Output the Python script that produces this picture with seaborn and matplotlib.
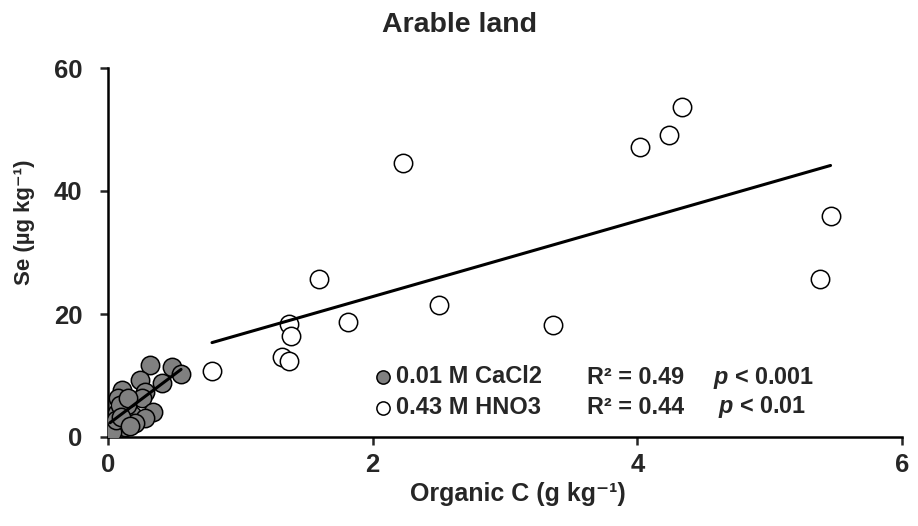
import numpy as np
import pandas as pd
import matplotlib
matplotlib.use("Agg")
import matplotlib.pyplot as plt
import seaborn as sns

# CaCl2-extractable Se (filled grey circles)
cacl2_oc = [0.317, 0.484, 0.552, 0.242, 0.408, 0.106, 0.280, 0.076, 0.257, 0.340,
            0.068, 0.181, 0.280, 0.038, 0.128, 0.204, 0.144, 0.090, 0.015, 0.150,
            0.030, 0.060, 0.100, 0.170]
cacl2_se = [11.7, 11.4, 10.2, 9.3, 8.8, 7.6, 7.3, 6.3, 6.3, 4.1,
            3.9, 3.6, 3.1, 2.0, 1.6, 2.3, 5.2, 5.2, 1.1, 6.3,
            0.8, 2.8, 3.2, 1.8]
# HNO3-extractable Se (open circles)
hno3_oc = [0.786, 1.315, 1.37, 1.37, 1.38, 1.595, 1.81, 2.23, 2.50, 3.36,
           4.02, 4.24, 4.34, 5.38, 5.46]
hno3_se = [10.7, 13.0, 12.4, 18.4, 16.4, 25.7, 18.7, 44.6, 21.5, 18.2,
           47.2, 49.1, 53.7, 25.7, 35.9]

series_labels = ["0.01 M CaCl2", "0.43 M HNO3"]
r2_labels = ["R² = 0.49", "R² = 0.44"]
p_labels = ["< 0.001", "< 0.01"]
x_ticks = [0, 2, 4, 6]
y_ticks = [0, 20, 40, 60]

sns.set_theme(style="ticks")
plt.rcParams["font.family"] = ["Liberation Sans", "DejaVu Sans"]
plt.rcParams["font.weight"] = "bold"
plt.rcParams["mathtext.fontset"] = "custom"
plt.rcParams["mathtext.bf"] = "Liberation Sans:bold"
plt.rcParams["mathtext.rm"] = "Liberation Sans:bold"
plt.rcParams["mathtext.it"] = "Liberation Sans:italic:bold"
plt.rcParams["mathtext.default"] = "bf"

fig = plt.figure(figsize=(9.18, 5.26), dpi=100)
ax = fig.add_axes([108 / 918, 89 / 526, 794 / 918, 369 / 526])

df1 = pd.DataFrame({"oc": cacl2_oc, "se": cacl2_se})
df2 = pd.DataFrame({"oc": hno3_oc, "se": hno3_se})

sns.regplot(data=df1, x="oc", y="se", ax=ax, ci=None, truncate=True,
            scatter_kws=dict(s=175, facecolor="#808080", edgecolor="black",
                             linewidths=1.1, alpha=1, zorder=3),
            line_kws=dict(color="black", lw=2.2, zorder=4), label=series_labels[0])
sns.regplot(data=df2, x="oc", y="se", ax=ax, ci=None, truncate=True,
            scatter_kws=dict(s=175, facecolor="white", edgecolor="black",
                             linewidths=1.1, alpha=1, zorder=3),
            line_kws=dict(color="black", lw=2.2, zorder=4), label=series_labels[1])

ax.set_xlim(0, 6)
ax.set_ylim(0, 60)
ax.set_xticks(x_ticks)
ax.set_yticks(y_ticks)
ax.tick_params(axis="both", which="major", labelsize=18.5, width=1.8, length=5.5,
               direction="out")
ax.tick_params(axis="y", pad=13)
ax.tick_params(axis="x", pad=6)
for lab in ax.get_xticklabels() + ax.get_yticklabels():
    lab.set_fontweight("bold")
for side in ["top", "right"]:
    ax.spines[side].set_visible(False)
for side in ["left", "bottom"]:
    ax.spines[side].set_linewidth(1.8)
    ax.spines[side].set_color("black")

ax.set_xlabel("Organic C (g kg⁻¹)", fontsize=18, fontweight="bold")
ax.set_ylabel("Se (µg kg⁻¹)", fontsize=16, fontweight="bold")
ax.xaxis.set_label_coords(0.516, -0.122)
ax.yaxis.set_label_coords(-0.092, 0.583)
fig.suptitle("Arable land", fontsize=20.5, fontweight="bold", x=0.5, y=0.978)

handles = [ax.collections[0], ax.collections[1]]
leg = ax.legend(handles, series_labels, loc="center left",
                bbox_to_anchor=(0.338, 0.122), frameon=False, fontsize=17,
                markerscale=0.72, handlelength=0.6, handletextpad=0.25,
                labelspacing=0.35, borderpad=0, borderaxespad=0)
for t in leg.get_texts():
    t.set_fontweight("bold")

row_y = [0.160, 0.081]
p_x = [0.762, 0.768]
for i in range(2):
    ax.text(0.603, row_y[i], r2_labels[i], transform=ax.transAxes, fontsize=16.8,
            fontweight="bold", va="center", ha="left")
    ax.text(p_x[i], row_y[i], "$\\mathit{p}$ " + p_labels[i], transform=ax.transAxes,
            fontsize=16.8, fontweight="bold", va="center", ha="left")

fig.savefig("out.png", dpi=100)
